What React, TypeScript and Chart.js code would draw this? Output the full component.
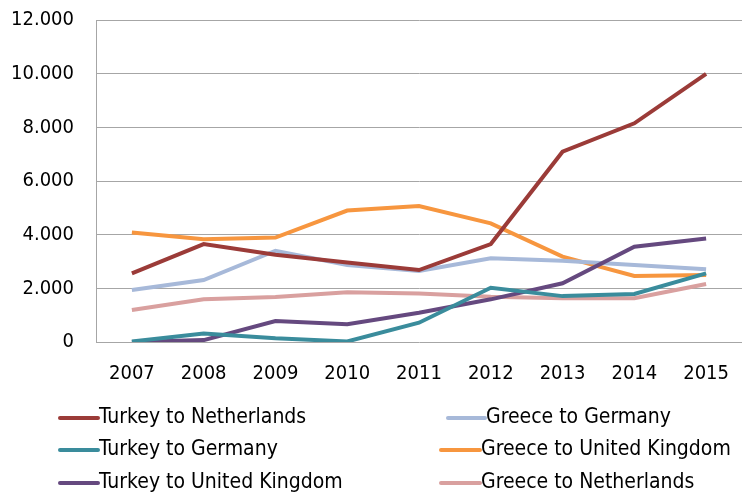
import React, { useEffect, useRef } from "react";
import { Chart, registerables } from "chart.js";

Chart.register(...registerables);

const years = ["2007", "2008", "2009", "2010", "2011", "2012", "2013", "2014", "2015"];

const turkeyToNetherlands = [2560, 3650, 3250, 2960, 2680, 3650, 7090, 8150, 9990];
const turkeyToGermany = [20, 320, 140, 20, 720, 2020, 1710, 1790, 2560];
const turkeyToUK = [0, 70, 780, 660, 1090, 1590, 2190, 3550, 3860];
const greeceToGermany = [1940, 2310, 3400, 2870, 2650, 3120, 3030, 2870, 2710];
const greeceToUK = [4080, 3830, 3890, 4900, 5070, 4420, 3180, 2460, 2500];
const greeceToNetherlands = [1190, 1590, 1680, 1850, 1810, 1690, 1630, 1630, 2160];

const seriesLabels = [
  "Turkey to Netherlands",
  "Turkey to Germany",
  "Turkey to United Kingdom",
  "Greece to Germany",
  "Greece to United Kingdom",
  "Greece to Netherlands",
];
const seriesData = [turkeyToNetherlands, turkeyToGermany, turkeyToUK, greeceToGermany, greeceToUK, greeceToNetherlands];
const seriesColors = ["#9B3B38", "#3A8C9C", "#65497F", "#A7B9D9", "#F7963F", "#D9A09F"];

const yTicks = [0, 2000, 4000, 6000, 8000, 10000, 12000];

const FONT = "'DejaVu Sans Condensed', 'DejaVu Sans', sans-serif";

// legend layout: [lineStartX, lineEndX, textX, y]
const legendPos = [
  [60, 98, 99, 418],
  [60, 98, 99, 450],
  [60, 98, 99, 483],
  [448, 485, 486, 418],
  [441, 480, 481, 450],
  [441, 480, 481, 483],
];

const legendPlugin = {
  id: "customLegend",
  afterDraw(chart: any) {
    const ctx = chart.ctx;
    ctx.save();
    chart.data.datasets.forEach((ds: any, i: number) => {
      const [x0, x1, tx, y] = legendPos[i];
      ctx.strokeStyle = ds.borderColor;
      ctx.lineWidth = 4;
      ctx.lineCap = "round";
      ctx.beginPath();
      ctx.moveTo(x0, y);
      ctx.lineTo(x1, y);
      ctx.stroke();
      ctx.fillStyle = "#000";
      ctx.font = `21px ${FONT}`;
      ctx.textBaseline = "middle";
      ctx.textAlign = "left";
      ctx.fillText(ds.label, tx, y);
    });
    ctx.restore();
  },
};

function fmt(v: number) {
  return String(v).replace(/\B(?=(\d{3})+(?!\d))/g, ".");
}

export default function App() {
  const ref = useRef<HTMLCanvasElement>(null);
  useEffect(() => {
    if (!ref.current) return;
    const chart = new Chart(ref.current, {
      type: "line",
      data: {
        labels: years,
        datasets: seriesLabels.map((label, i) => ({
          label,
          data: seriesData[i],
          borderColor: seriesColors[i],
          backgroundColor: seriesColors[i],
          borderWidth: 4,
          pointRadius: 0,
          tension: 0,
          fill: false,
        })),
      },
      options: {
        animation: false,
        responsive: true,
        maintainAspectRatio: false,
        layout: { padding: { top: 20, left: 0, right: 0, bottom: 0 } },
        plugins: { legend: { display: false }, tooltip: { enabled: false } },
        scales: {
          x: {
            offset: true,
            grid: { display: false, drawTicks: false, offset: true },
            border: { display: false },
            ticks: { font: { family: FONT, size: 20 }, color: "#000", padding: 20, maxRotation: 0 },
            afterFit(scale: any) {
              scale.height = 150;
              scale.paddingLeft = 0;
              scale.paddingRight = 0;
            },
          },
          y: {
            min: 0,
            max: 12000,
            afterBuildTicks(scale: any) {
              scale.ticks = yTicks.map((v) => ({ value: v }));
            },
            grid: { color: "#A6A6A6", lineWidth: 1, drawTicks: false },
            border: { display: true, color: "#A6A6A6", width: 1 },
            ticks: {
              font: { family: FONT, size: 20 },
              color: "#000",
              padding: 22,
              callback: (v: any) => fmt(Number(v)),
            },
            afterFit(scale: any) {
              scale.width = 96;
              scale.paddingTop = 0;
              scale.paddingBottom = 0;
            },
          },
        },
      },
      plugins: [legendPlugin],
    });
    return () => chart.destroy();
  }, []);
  return (
    <div style={{ position: "fixed", left: 0, top: 0, width: 742, height: 492, background: "#fff" }}>
      <canvas ref={ref} />
    </div>
  );
}
